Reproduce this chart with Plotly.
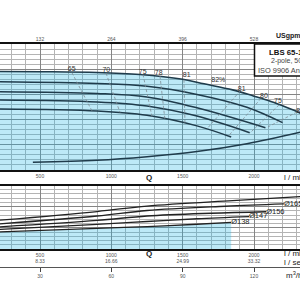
import plotly.graph_objects as go

# ---------------- data ----------------
# Head curves (Q in l/min, H in m) per impeller diameter
q_174 = [200, 500, 900, 1200, 1500, 1650, 1850, 2000, 2100, 2200, 2300, 2400]
h_174 = [39.1, 39.0, 38.7, 37.9, 36.0, 34.2, 31.8, 29.3, 27.6, 25.5, 23.2, 20.5]
q_165 = [200, 900, 1250, 1600, 1950, 2200]
h_165 = [35.0, 34.3, 33.2, 30.0, 24.9, 18.8]
q_156 = [200, 900, 1250, 1600, 2080]
h_156 = [31.1, 30.4, 29.0, 24.7, 16.8]
q_147 = [200, 900, 1250, 1600, 1970]
h_147 = [27.8, 27.0, 25.4, 21.4, 14.8]
q_138 = [200, 900, 1250, 1600, 1840]
h_138 = [24.2, 23.4, 21.7, 17.5, 13.1]

# NPSH curve
q_npsh = [450, 900, 1250, 1600, 1950, 2350]
h_npsh = [3.1, 3.9, 5.3, 7.3, 10.4, 15.3]

# Power curves (kW)
q_p174 = [200, 900, 1250, 1850, 2400]
p_174 = [13.5, 17.7, 20.3, 22.9, 25.0]
q_p165 = [200, 900, 1250, 1800, 2210]
p_165 = [11.8, 15.6, 18.2, 20.2, 21.3]
q_p156 = [200, 900, 1250, 1700, 2085]
p_156 = [10.4, 13.5, 15.6, 16.9, 17.6]
q_p147 = [200, 900, 1250, 1600, 1965]
p_147 = [9.2, 11.6, 13.0, 14.3, 15.3]
q_p138 = [200, 900, 1250, 1600, 1840]
p_138 = [8.0, 9.7, 10.6, 11.7, 12.6]

power_labels = ["Ø138", "Ø147", "Ø156", "Ø165"]

# Iso-efficiency lines (start on top curve, end on lower curves)
eff_labels = ["65", "70", "75", "78", "81", "81", "80", "75", "8"]
eff_q = [[724, 864], [963, 1061], [1222, 1285], [1341, 1376], [1509, 1516],
         [1902, 1670], [2049, 1818], [2175, 1972], [2301, 2098]]
eff_h = [[38.6, 23.5], [38.4, 22.8], [37.9, 21.2], [37.3, 19.8], [35.8, 18.7],
         [31.3, 16.3], [28.4, 13.3], [25.8, 14.7], [23.0, 17.1]]
eff_label_q = [722, 965, 1220, 1332, 1528, 1914, 2070, 2168, 2310]
eff_label_h = [39.9, 39.6, 38.9, 38.5, 37.7, 32.1, 29.3, 27.1, 23.2]
bep_label = "82%"
bep_q, bep_h = 1750, 35.5

# tick labels
q_ticks = [500, 1000, 1500, 2000]
usgpm_text = ["132", "264", "396", "528"]
lsec_text = ["8.33", "16.66", "24.99", "33.32"]
m3h_text = ["30", "60", "90", "120"]

title_lines = ["LBS 65-160", "2-pole, 50 Hz", "ISO 9906 Annex A"]

# ---------------- figure ----------------
XR = [219.6, 2322.4]
FILL = "rgba(38,182,228,0.30)"
CURVE = "#1f3b4b"
FONT = "Liberation Sans, Arial, sans-serif"

fig = go.Figure()

fig.add_trace(go.Scatter(x=q_174, y=h_174, mode="lines", line=dict(color=CURVE, width=1.6, shape="spline"),
                         fill="tozeroy", fillcolor=FILL, xaxis="x", yaxis="y", hoverinfo="skip"))
for q, h in [(q_165, h_165), (q_156, h_156), (q_147, h_147), (q_138, h_138), (q_npsh, h_npsh)]:
    fig.add_trace(go.Scatter(x=q, y=h, mode="lines", line=dict(color=CURVE, width=1.5, shape="spline"),
                             xaxis="x", yaxis="y", hoverinfo="skip"))
for q, h in zip(eff_q, eff_h):
    fig.add_trace(go.Scatter(x=q, y=h, mode="lines", line=dict(color="#7f8c94", width=0.8, dash="3px,2px"),
                             xaxis="x", yaxis="y", hoverinfo="skip"))
fig.add_trace(go.Scatter(x=eff_label_q, y=eff_label_h, mode="text", text=eff_labels,
                         textfont=dict(size=7, color="#333", family=FONT), xaxis="x", yaxis="y", hoverinfo="skip"))
fig.add_trace(go.Scatter(x=[bep_q], y=[bep_h], mode="text", text=[bep_label],
                         textfont=dict(size=7, color="#333", family=FONT), xaxis="x", yaxis="y", hoverinfo="skip"))

# bottom panel
fig.add_trace(go.Scatter(x=q_p138, y=p_138, mode="lines", line=dict(color="#222", width=1.3, shape="spline"),
                         fill="tozeroy", fillcolor=FILL, xaxis="x2", yaxis="y2", hoverinfo="skip"))
for q, p in [(q_p147, p_147), (q_p156, p_156), (q_p165, p_165), (q_p174, p_174)]:
    fig.add_trace(go.Scatter(x=q, y=p, mode="lines", line=dict(color="#222", width=1.3, shape="spline"),
                             xaxis="x2", yaxis="y2", hoverinfo="skip"))
ends_q = [q_p138[-1], q_p147[-1], q_p156[-1], q_p165[-1]]
ends_p = [p_138[-1], p_147[-1], p_156[-1], p_165[-1]]
fig.add_trace(go.Scatter(x=ends_q, y=ends_p, mode="text", text=power_labels, textposition="middle right",
                         textfont=dict(size=7.5, color="#222", family=FONT), xaxis="x2", yaxis="y2", hoverinfo="skip"))

TOP_DOM = [1 - 170 / 300, 1 - 44 / 300]
BOT_DOM = [1 - 249 / 300, 1 - 185.5 / 300]
grid_minor = "#b4b4b4"
grid_major = "#858585"
tickf = dict(size=5, color="#555", family=FONT)

xcommon = dict(range=XR, showgrid=True, gridcolor=grid_major, gridwidth=1, dtick=500, tick0=0,
               minor=dict(dtick=100, tick0=0, showgrid=True, gridcolor=grid_minor, gridwidth=1),
               showline=True, linecolor="#111", linewidth=2, mirror=True, ticks="",
               tickfont=tickf, tickvals=q_ticks, ticktext=[str(v) for v in q_ticks], zeroline=False)
ycommon = dict(showticklabels=False, showgrid=True, gridcolor=grid_major, zeroline=False, showline=False,
               ticks="")

fig.update_layout(
    width=300, height=300, margin=dict(l=0, r=0, t=0, b=0),
    paper_bgcolor="white", plot_bgcolor="white", showlegend=False,
    xaxis=dict(anchor="y", **xcommon),
    yaxis=dict(domain=TOP_DOM, range=[0, 50], dtick=10,
               minor=dict(dtick=2, showgrid=True, gridcolor=grid_minor), **ycommon),
    xaxis2=dict(anchor="y2", **xcommon),
    yaxis2=dict(domain=BOT_DOM, range=[0, 30], dtick=10,
                minor=dict(dtick=2, showgrid=True, gridcolor=grid_minor), **ycommon),
    xaxis3=dict(overlaying="x", anchor="free", position=1 - 41.5 / 300, side="top", range=XR,
                tickvals=q_ticks, ticktext=usgpm_text,
                showgrid=False, ticks="", tickfont=tickf, showline=False, zeroline=False),
    xaxis4=dict(overlaying="x2", anchor="free", position=1 - 256.5 / 300, range=XR, tickvals=q_ticks,
                ticktext=lsec_text, showgrid=False, ticks="", tickfont=tickf, showline=False, zeroline=False),
    xaxis5=dict(overlaying="x2", anchor="free", position=1 - 267 / 300, range=XR, tickvals=q_ticks,
                ticktext=m3h_text, showgrid=False, ticks="outside", ticklen=4, tickcolor="#444",
                tickfont=tickf, showline=True, linecolor="#555", linewidth=0.7, zeroline=False),
)

# invisible traces that activate the extra axes
for xa, ya in [("x3", "y"), ("x4", "y2"), ("x5", "y2")]:
    fig.add_trace(go.Scatter(x=[1000], y=[0], mode="markers", marker=dict(size=1, opacity=0),
                             xaxis=xa, yaxis=ya, hoverinfo="skip"))

# title box
fig.add_shape(type="rect", xref="paper", yref="paper", x0=254.5 / 300, x1=1.05, y0=1 - 76 / 300, y1=1 - 44 / 300,
              line=dict(color="#111", width=1.5), fillcolor="white", layer="above")
fig.add_annotation(text="<b>" + title_lines[0] + "</b>", xref="paper", yref="paper", x=266.5 / 300, y=1 - 52.5 / 300,
                   xanchor="left", yanchor="middle", showarrow=False, font=dict(size=7.8, color="#111", family=FONT))
fig.add_annotation(text=title_lines[1], xref="paper", yref="paper", x=269 / 300, y=1 - 61.5 / 300,
                   xanchor="left", yanchor="middle", showarrow=False, font=dict(size=7, color="#444", family=FONT))
fig.add_annotation(text=title_lines[2], xref="paper", yref="paper", x=256 / 300, y=1 - 70.5 / 300,
                   xanchor="left", yanchor="middle", showarrow=False, font=dict(size=7.4, color="#444", family=FONT))

def lab(t, xp, yp, size=8, bold=True):
    fig.add_annotation(text=("<b>%s</b>" % t) if bold else t, xref="paper", yref="paper", x=xp / 300, y=1 - yp / 300,
                       xanchor="left", yanchor="middle", showarrow=False, font=dict(size=size, color="#222", family=FONT))

lab("USgpm", 274, 36, size=7)
lab("Q", 144, 177)
lab("l / min", 282, 177, bold=False)
lab("Q", 144, 253)
lab("l / min", 282, 253.5, bold=False)
lab("l / sec", 282, 262.5, bold=False)
lab("m<sup>3</sup>/h", 284, 275, bold=False)

fig.write_html("out.html")
